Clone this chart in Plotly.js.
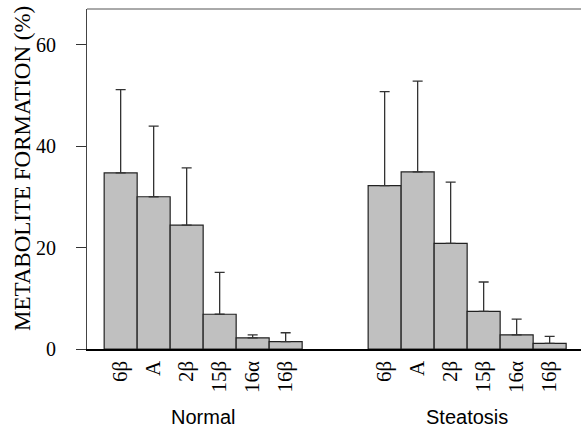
<!DOCTYPE html>
<html>
<head>
<meta charset="utf-8">
<script src="https://cdn.plot.ly/plotly-3.0.1.min.js"></script>
<style>html,body{margin:0;padding:0;background:#fff;}#chart{width:581px;height:428px;}</style>
</head>
<body>
<div id="chart"></div>
<script>
var metabolites = ['6β', 'A', '2β', '15β', '16α', '16β'];
var groups = ['Normal', 'Steatosis'];
var normalMean = [34.7, 30.0, 24.4, 6.85, 2.2, 1.45];
var normalUpper = [51.1, 43.9, 35.7, 15.1, 2.8, 3.2];
var steatosisMean = [32.2, 34.9, 20.8, 7.4, 2.8, 1.1];
var steatosisUpper = [50.7, 52.8, 32.9, 13.2, 5.9, 2.5];
var yTicks = [0, 20, 40, 60];
var yTitle = 'METABOLITE FORMATION (%)';

var groupOffset = [0, 8];
var means = [normalMean, steatosisMean];
var uppers = [normalUpper, steatosisUpper];

var traces = [];
var tickvals = [], ticktext = [];
groups.forEach(function (g, gi) {
  var xs = metabolites.map(function (m, i) { return i + groupOffset[gi]; });
  xs.forEach(function (x, i) { tickvals.push(x); ticktext.push(metabolites[i]); });
  traces.push({
    type: 'bar',
    name: g,
    x: xs,
    y: means[gi],
    width: 1,
    marker: { color: '#c0c0c0', line: { color: '#222', width: 1.2 } },
    error_y: {
      type: 'data',
      symmetric: false,
      array: uppers[gi].map(function (u, i) { return u - means[gi][i]; }),
      arrayminus: means[gi].map(function () { return 0; }),
      color: '#333',
      thickness: 1.3,
      width: 5
    },
    hoverinfo: 'none'
  });
});

var annotations = groups.map(function (g, gi) {
  return {
    text: g,
    x: groupOffset[gi] + (metabolites.length - 1) / 2,
    xref: 'x',
    y: (349 - 417) / 340,
    yref: 'paper',
    showarrow: false,
    font: { family: 'Liberation Sans, Arial, sans-serif', size: 20, color: '#000' },
    xanchor: 'center',
    yanchor: 'middle'
  };
});
annotations.push({
  text: yTitle,
  textangle: -90,
  x: (22 - 87) / 494,
  xref: 'paper',
  y: (349 - 169) / 340,
  yref: 'paper',
  showarrow: false,
  xanchor: 'center',
  yanchor: 'middle',
  font: { family: 'Liberation Serif, Times New Roman, serif', size: 23, color: '#000' }
});

var layout = {
  width: 581,
  height: 428,
  margin: { l: 87, r: 0, t: 9, b: 79 },
  paper_bgcolor: '#fff',
  plot_bgcolor: '#fff',
  showlegend: false,
  bargap: 0,
  barmode: 'group',
  xaxis: {
    range: [-1.02, 13.95],
    tickmode: 'array',
    tickvals: tickvals,
    ticktext: ticktext,
    tickangle: -90,
    ticks: 'outside',
    ticklen: 2,
    tickcolor: 'rgba(0,0,0,0)',
    tickfont: { family: 'Liberation Serif, Times New Roman, serif', size: 21, color: '#000' },
    showline: true,
    linecolor: '#000',
    linewidth: 1.5,
    showgrid: false,
    zeroline: false,
    fixedrange: true
  },
  yaxis: {
    range: [0, 67],
    tickmode: 'array',
    tickvals: yTicks,
    ticktext: yTicks.map(String),
    ticks: 'outside',
    ticklen: 10,
    tickcolor: '#333',
    tickwidth: 1,
    ticklabelstandoff: 16,
    tickfont: { family: 'Liberation Serif, Times New Roman, serif', size: 20, color: '#000' },
    showline: true,
    linecolor: '#444',
    linewidth: 1,
    showgrid: false,
    zeroline: false,
    fixedrange: true
  },
  shapes: [{
    type: 'line', xref: 'paper', yref: 'paper',
    x0: 0, x1: 1, y0: 1, y1: 1,
    line: { color: '#555', width: 1 }
  }],
  annotations: annotations
};

Plotly.newPlot('chart', traces, layout, { displayModeBar: false, staticPlot: true });
</script>
</body>
</html>
